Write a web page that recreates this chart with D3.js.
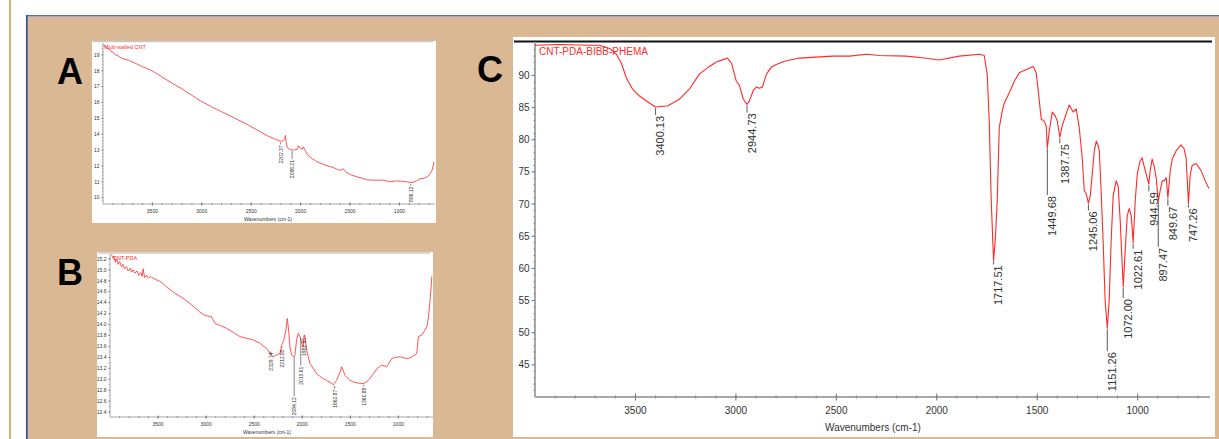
<!DOCTYPE html>
<html>
<head>
<meta charset="utf-8">
<script src="https://cdn.jsdelivr.net/npm/d3@7"></script>
<style>
html, body { margin: 0; padding: 0; background: #fff; }
svg { display: block; font-family: Arial, "Liberation Sans", sans-serif; }
</style>
</head>
<body>
<svg id="chart" width="1219" height="439"></svg>
<script>
// ---- data ----
const xMajorTicks = [3500, 3000, 2500, 2000, 1500, 1000];
const xMinorTicks = d3.range(3900, 600, -100);

// A: Multi-walled CNT
const aWave  = [3992, 3975, 3960, 3940, 3920, 3900, 3880, 3850, 3820, 3780, 3740, 3689, 3600, 3517, 3400, 3300, 3200, 3100, 3012, 2900, 2800, 2679, 2560, 2450, 2336, 2270, 2205, 2175, 2160, 2154, 2146, 2133, 2103, 2070, 2032, 2022, 2005, 1982, 1972, 1950, 1931, 1880, 1830, 1750, 1669, 1630, 1598, 1568, 1540, 1497, 1420, 1325, 1250, 1164, 1093, 1040, 992, 930, 871, 830, 790, 750, 719, 690, 669, 649];
const aTrans = [19.62, 19.55, 19.42, 19.38, 19.22, 19.18, 19.02, 18.95, 18.82, 18.72, 18.66, 18.52, 18.25, 18.05, 17.6, 17.22, 16.85, 16.45, 16.1, 15.72, 15.42, 15.05, 14.68, 14.3, 13.9, 13.72, 13.55, 13.6, 13.72, 13.92, 13.45, 13.15, 13.02, 13.0, 13.05, 13.28, 13.12, 13.05, 13.2, 12.95, 12.7, 12.45, 12.25, 12.05, 11.9, 11.78, 11.72, 11.82, 11.6, 11.45, 11.3, 11.12, 11.1, 11.1, 11.0, 11.05, 11.05, 11.0, 10.95, 11.05, 11.2, 11.22, 11.32, 11.5, 11.75, 12.25];
const aPeaks = [2202.37, 2086.21, 886.12];

// B: CNT-PDA
const bWave  = [3985, 3970, 3960, 3945, 3930, 3915, 3899, 3880, 3865, 3850, 3829, 3810, 3790, 3775, 3760, 3740, 3720, 3700, 3680, 3665, 3656, 3640, 3620, 3600, 3580, 3552, 3520, 3482, 3450, 3413, 3330, 3240, 3150, 3066, 3014, 2944, 2909, 2850, 2787, 2720, 2649, 2579, 2510, 2441, 2371, 2336, 2302, 2260, 2232, 2215, 2191, 2170, 2156, 2142, 2128, 2110, 2094, 2076, 2059, 2042, 2024, 2006, 1990, 1979, 1972, 1954, 1920, 1850, 1790, 1746, 1700, 1677, 1642, 1607, 1590, 1555, 1510, 1469, 1420, 1365, 1330, 1295, 1260, 1220, 1173, 1121, 1069, 1030, 983, 940, 896, 850, 809, 792, 756, 730, 704, 687, 670, 652];
const bTrans = [15.28, 15.22, 15.25, 15.14, 15.2, 15.1, 15.15, 15.06, 15.1, 15.02, 15.06, 14.98, 15.03, 14.96, 15.0, 14.94, 14.98, 14.9, 14.95, 14.88, 15.02, 14.86, 14.9, 14.85, 14.88, 14.85, 14.82, 14.79, 14.75, 14.69, 14.58, 14.48, 14.36, 14.23, 14.17, 14.14, 14.02, 13.98, 13.93, 13.86, 13.78, 13.75, 13.72, 13.66, 13.56, 13.47, 13.41, 13.45, 13.47, 13.62, 13.72, 13.9, 14.11, 13.9, 13.59, 13.44, 13.41, 13.44, 13.72, 13.84, 13.78, 13.66, 13.59, 13.81, 13.78, 13.53, 13.29, 13.1, 13.02, 12.98, 12.93, 12.9, 12.98, 13.13, 13.23, 13.07, 12.99, 12.95, 12.93, 12.92, 12.95, 13.02, 13.1, 13.2, 13.26, 13.23, 13.38, 13.4, 13.41, 13.39, 13.38, 13.42, 13.47, 13.78, 13.81, 13.88, 13.96, 14.14, 14.45, 14.88];
const bPeaks = [2329.74, 2212.85, 2084.12, 2015.61, 1981.95, 1662.87, 1360.88];

// C: CNT-PDA-BIBB-PHEMA
const cWave  = [4000, 3878, 3729, 3679, 3629, 3595, 3570, 3545, 3515, 3480, 3440, 3400.13, 3341, 3281, 3231, 3182, 3132, 3097, 3060, 3042, 3022, 2998, 2983, 2963, 2944.73, 2933, 2913, 2898, 2883, 2868, 2848, 2823, 2799, 2759, 2684, 2520, 2435, 2351, 2286, 2152, 2062, 1988, 1888, 1789, 1764, 1749, 1739, 1729, 1717.51, 1709, 1699, 1689, 1674, 1664, 1639, 1614, 1590, 1540, 1520, 1505, 1495, 1480, 1465, 1455, 1449.68, 1440, 1425, 1410, 1400, 1387.75, 1376, 1365, 1341, 1321, 1306, 1291, 1276, 1266, 1256, 1245.06, 1236, 1226, 1216, 1206, 1196, 1191, 1182, 1172, 1162, 1151.26, 1142, 1132, 1122, 1107, 1097, 1087, 1072.00, 1062, 1052, 1042, 1032, 1022.61, 1012, 1002, 988, 978, 968, 958, 944.59, 938, 928, 918, 908, 897.47, 888, 878, 868, 858, 849.67, 838, 828, 808, 784, 769, 759, 747.26, 739, 729, 709, 684, 664, 645];
const cTrans = [94.7, 94.8, 94.7, 94.7, 94.2, 93.3, 91.9, 89.6, 87.9, 86.8, 85.9, 85.1, 85.25, 86.3, 87.9, 90.2, 91.4, 92.1, 92.5, 92.7, 91.9, 89.1, 88.5, 86.3, 85.5, 86.0, 87.7, 88.2, 88.0, 88.2, 90.2, 91.3, 91.7, 92.2, 92.7, 93.0, 93.0, 93.3, 93.1, 93.0, 92.7, 92.4, 93.0, 93.3, 93.1, 90.2, 82.9, 70.6, 61.25, 64.3, 70.6, 81.9, 84.5, 85.7, 87.3, 89.1, 90.4, 91.1, 91.4, 90.4, 87.6, 83.2, 82.9, 82.1, 78.7, 81.4, 84.3, 83.7, 82.9, 80.4, 82.1, 83.2, 85.4, 84.3, 84.8, 81.9, 77.2, 72.1, 71.6, 70.1, 71.3, 74.7, 78.3, 79.8, 79.0, 78.3, 72.1, 64.3, 55.0, 50.7, 55.0, 64.3, 71.3, 73.6, 72.8, 67.4, 57.1, 62.8, 68.2, 69.3, 68.2, 64.0, 70.6, 74.7, 76.7, 77.2, 75.9, 74.7, 73.1, 75.1, 77.0, 75.9, 74.1, 70.5, 72.1, 73.6, 73.6, 74.1, 71.0, 75.1, 77.0, 78.3, 79.2, 78.6, 77.2, 70.1, 74.4, 76.0, 76.3, 75.2, 73.6, 72.4];
const cPeaks = [3400.13, 2944.73, 1717.51, 1449.68, 1387.75, 1245.06, 1151.26, 1072.00, 1022.61, 944.59, 897.47, 849.67, 747.26];

// ---- drawing ----
const svg = d3.select('#chart');
const fontMain = 'Arial, "Liberation Sans", sans-serif';

// page frame
svg.append('rect').attr('x', 27).attr('y', 16.5).attr('width', 1192).attr('height', 423).attr('fill', '#dbb894');
svg.append('line').attr('x1', 10).attr('x2', 10).attr('y1', 0).attr('y2', 439)
  .attr('stroke', '#cbb271').attr('stroke-width', 2);
svg.append('line').attr('x1', 26).attr('x2', 1219).attr('y1', 15.8).attr('y2', 15.8)
  .attr('stroke', '#5470a8').attr('stroke-width', 1.6);
svg.append('line').attr('x1', 26.8).attr('x2', 26.8).attr('y1', 15).attr('y2', 439)
  .attr('stroke', '#2d4d9a').attr('stroke-width', 1.6);

function nearestT(wave, trans, w) {
  let best = 0;
  wave.forEach((v, i) => { if (Math.abs(v - w) < Math.abs(wave[best] - w)) best = i; });
  return trans[best];
}

function drawPanel(p) {
  const g = svg.append('g');
  g.append('rect').attr('x', p.box[0]).attr('y', p.box[1]).attr('width', p.box[2]).attr('height', p.box[3]).attr('fill', '#fff');

  const x = d3.scaleLinear().domain([4000, 640]).range([p.x0, p.x1]);
  const y = d3.scaleLinear().domain(p.yDom).range([p.y1, p.y0]);

  // top frame line
  g.append('line').attr('x1', p.box[0] + 1).attr('x2', p.box[0] + p.box[2] - 3)
    .attr('y1', p.topY).attr('y2', p.topY)
    .attr('stroke', p.topColor).attr('stroke-width', p.topW);

  // x axis
  const xa = g.append('g').attr('transform', `translate(0,${p.y1})`);
  xa.append('line').attr('x1', p.x0).attr('x2', p.x1).attr('stroke', '#a8a8a8').attr('stroke-width', p.axisW);
  xa.selectAll('.mn').data(xMinorTicks).enter().append('line')
    .attr('x1', d => x(d)).attr('x2', d => x(d)).attr('y1', -p.minor).attr('y2', p.minor)
    .attr('stroke', '#888').attr('stroke-width', 1);
  xa.selectAll('.mj').data(xMajorTicks).enter().append('line')
    .attr('x1', d => x(d)).attr('x2', d => x(d)).attr('y1', -p.major).attr('y2', p.major)
    .attr('stroke', '#777').attr('stroke-width', 1);
  xa.selectAll('text').data(xMajorTicks).enter().append('text')
    .attr('x', d => x(d)).attr('y', p.xLabDy).attr('text-anchor', 'middle')
    .attr('font-size', p.fs).attr('fill', '#333').text(d => d);
  g.append('text').attr('x', p.titleX).attr('y', p.titleY).attr('text-anchor', 'middle')
    .attr('font-size', p.fs).attr('fill', '#333').text('Wavenumbers (cm-1)');

  // y axis
  const ya = g.append('g').attr('transform', `translate(${p.x0},0)`);
  ya.append('line').attr('y1', p.y0).attr('y2', p.y1).attr('stroke', '#a8a8a8').attr('stroke-width', p.axisW);
  ya.selectAll('.mn').data(p.yMinor).enter().append('line')
    .attr('x1', -p.minor).attr('x2', 0).attr('y1', d => y(d)).attr('y2', d => y(d))
    .attr('stroke', '#888').attr('stroke-width', 1);
  ya.selectAll('.mj').data(p.yTicks).enter().append('line')
    .attr('x1', -p.major).attr('x2', 0).attr('y1', d => y(d)).attr('y2', d => y(d))
    .attr('stroke', '#777').attr('stroke-width', 1);
  ya.selectAll('text').data(p.yTicks).enter().append('text')
    .attr('x', -p.major - 2).attr('y', d => y(d) + p.fs * 0.35).attr('text-anchor', 'end')
    .attr('font-size', p.fs).attr('fill', '#333').text(d => d3.format(p.yFmt)(d));

  // spectrum
  const pts = p.wave.map((w, i) => [w, p.trans[i]]);
  g.append('path').datum(pts)
    .attr('d', d3.line().x(d => x(d[0])).y(d => y(d[1])))
    .attr('fill', 'none').attr('stroke', '#ff2a2a').attr('stroke-width', p.lineW)
    .attr('stroke-linejoin', 'round');

  // peak markers
  p.peaks.forEach((w, i) => {
    const px = x(w), py = y(nearestT(p.wave, p.trans, w)) + 1;
    const len = p.leader[i];
    g.append('line').attr('x1', px).attr('x2', px).attr('y1', py).attr('y2', py + len)
      .attr('stroke', '#666').attr('stroke-width', p.lineW);
    g.append('text')
      .attr('transform', `translate(${px + p.labDx + p.pfs * 0.35},${py + len + 1}) rotate(-90)`)
      .attr('text-anchor', 'end').attr('font-size', p.pfs).attr('fill', '#333')
      .text(d3.format('.2f')(w));
  });

  // sample name
  g.append('text').attr('x', p.nameX).attr('y', p.nameY).attr('font-size', p.nfs)
    .attr('fill', '#ff2a2a').text(p.name);
}

drawPanel({
  box: [92, 41, 344, 182], topY: 41.5, topColor: '#c8c8c8', topW: 1.5,
  x0: 103, x1: 435, y0: 43, y1: 204, yDom: [9.6, 19.75],
  yTicks: d3.range(10, 20, 1), yMinor: d3.range(9.8, 19.7, 0.2), yFmt: 'd',
  wave: aWave, trans: aTrans, peaks: aPeaks, leader: [2, 8, 2],
  fs: 5, pfs: 5, nfs: 5.5, lineW: 0.8, axisW: 1, minor: 0.8, major: 1.5,
  xLabDy: 8.5, titleX: 268, titleY: 220.5, labDx: 0.5,
  name: 'Multi-walled CNT', nameX: 104, nameY: 48.5
});

drawPanel({
  box: [97, 252, 336, 185], topY: 253, topColor: '#c8c8c8', topW: 1.5,
  x0: 110, x1: 433, y0: 254, y1: 417, yDom: [12.31, 15.29],
  yTicks: d3.range(12.4, 15.21, 0.2), yMinor: d3.range(12.4, 15.21, 0.1), yFmt: '.1f',
  wave: bWave, trans: bTrans, peaks: bPeaks, leader: [-3, 2, 40, 28, 1, 3, 2],
  fs: 5, pfs: 5, nfs: 5.5, lineW: 0.8, axisW: 1, minor: 0.8, major: 1.5,
  xLabDy: 8.5, titleX: 267, titleY: 434, labDx: 0.5,
  name: 'CNT-PDA', nameX: 113, nameY: 259.5
});

drawPanel({
  box: [513, 37, 702, 400], topY: 41.5, topColor: '#111', topW: 2.2,
  x0: 535, x1: 1210, y0: 42, y1: 397, yDom: [40, 95.2],
  yTicks: d3.range(45, 91, 5), yMinor: d3.range(41, 95, 1), yFmt: 'd',
  wave: cWave, trans: cTrans, peaks: cPeaks,
  leader: [7, 7, 3, 46, 5, 6, 22, 10, 5, 6, 45, 7, 3],
  fs: 10, pfs: 11, nfs: 10, lineW: 1.1, axisW: 2, minor: 1.5, major: 3.5,
  xLabDy: 17, titleX: 873, titleY: 431, labDx: 5,
  name: 'CNT-PDA-BIBB-PHEMA', nameX: 539, nameY: 55
});

// panel letters
[['A', 70, 84], ['B', 70, 285], ['C', 490, 82]].forEach(([t, lx, ly]) => {
  svg.append('text').attr('x', lx).attr('y', ly).attr('text-anchor', 'middle')
    .attr('font-family', fontMain).attr('font-weight', 'bold').attr('font-size', 36)
    .attr('fill', '#000').text(t);
});
</script>
</body>
</html>
